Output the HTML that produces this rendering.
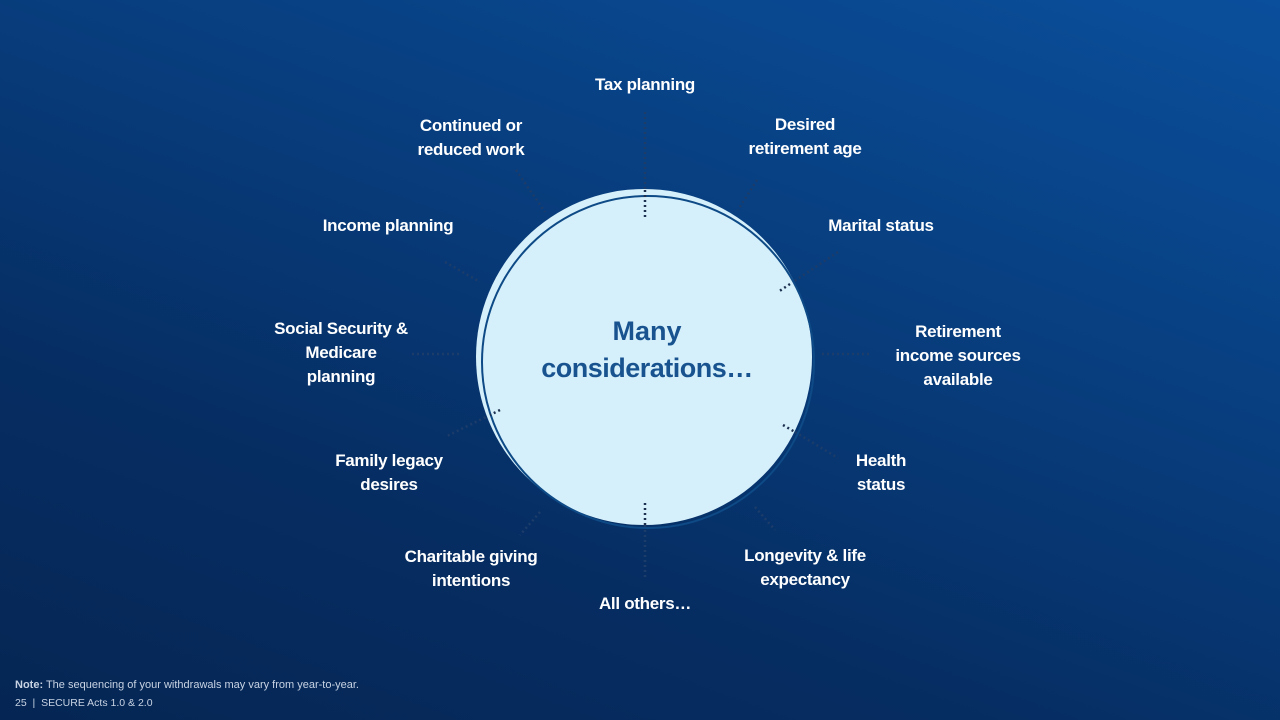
<!DOCTYPE html>
<html><head><style>
body{margin:0;width:1280px;height:720px;overflow:hidden;background:linear-gradient(200deg,#0a4f9c 0%,#083f80 35%,#062d62 70%,#052654 100%);font-family:"Liberation Sans",sans-serif;position:relative}
.l{position:absolute;color:#fff;font-weight:bold;font-size:17px;line-height:24px;text-align:center;transform:translateX(-50%);white-space:nowrap;letter-spacing:-0.3px}
</style></head><body>
<svg width="1280" height="720" style="position:absolute;left:0;top:0">
<g stroke="#1c3c6a" stroke-width="2.5" stroke-dasharray="2 3" fill="none">
<line x1="645" y1="112" x2="645" y2="190"/>
<line x1="757" y1="180" x2="738" y2="210"/>
<line x1="838" y1="252" x2="790" y2="284"/>
<line x1="822" y1="354" x2="870" y2="354"/>
<line x1="795" y1="432" x2="838" y2="458"/>
<line x1="755" y1="507" x2="775" y2="530"/>
<line x1="645" y1="525" x2="645" y2="578"/>
<line x1="540" y1="512" x2="520" y2="535"/>
<line x1="490" y1="415" x2="445" y2="437"/>
<line x1="412" y1="354" x2="462" y2="354"/>
<line x1="445" y1="262" x2="480" y2="282"/>
<line x1="516" y1="170" x2="545" y2="212"/>
</g>
<circle cx="644" cy="357" r="168" fill="#d6f0fb"/>
<circle cx="648" cy="362" r="166" fill="none" stroke="#0e4a86" stroke-width="2"/>
<g stroke="#1c3050" stroke-width="2.5" stroke-dasharray="2 3" fill="none">
<line x1="645" y1="190" x2="645" y2="220"/>
<line x1="645" y1="503" x2="645" y2="525"/>
<line x1="790" y1="284" x2="778" y2="292"/>
<line x1="783" y1="425" x2="795" y2="432"/>
<line x1="500" y1="410" x2="490" y2="415"/>
</g>
<text x="647" y="340" text-anchor="middle" font-family="Liberation Sans" font-weight="bold" font-size="27" fill="#18538f">Many</text>
<text x="647" y="377" text-anchor="middle" font-family="Liberation Sans" font-weight="bold" font-size="27" fill="#18538f" letter-spacing="-0.5">considerations…</text>
</svg>
<div class="l" style="left:645px;top:73px">Tax planning</div>
<div class="l" style="left:805px;top:113px">Desired<br>retirement age</div>
<div class="l" style="left:881px;top:214px">Marital status</div>
<div class="l" style="left:958px;top:320px">Retirement<br>income sources<br>available</div>
<div class="l" style="left:881px;top:449px">Health<br>status</div>
<div class="l" style="left:805px;top:544px">Longevity &amp; life<br>expectancy</div>
<div class="l" style="left:645px;top:592px">All others…</div>
<div class="l" style="left:471px;top:545px">Charitable giving<br>intentions</div>
<div class="l" style="left:389px;top:449px">Family legacy<br>desires</div>
<div class="l" style="left:341px;top:317px">Social Security &amp;<br>Medicare<br>planning</div>
<div class="l" style="left:388px;top:214px">Income planning</div>
<div class="l" style="left:471px;top:114px">Continued or<br>reduced work</div>
<div style="position:absolute;left:15px;top:679px;color:#c8d3e3;font-size:11px"><b>Note:</b> The sequencing of your withdrawals may vary from year-to-year.</div>
<div style="position:absolute;left:15px;top:697px;color:#c8d3e3;font-size:10.5px">25 &nbsp;| &nbsp;SECURE Acts 1.0 &amp; 2.0</div>
</body></html>
